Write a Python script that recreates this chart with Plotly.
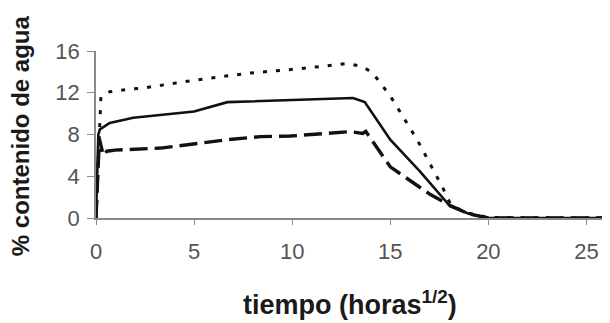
import plotly.graph_objects as go

# Serie punteada (superior)
x_dot = [0, 0.17, 0.25, 0.7, 1.5, 2.4, 5, 7.9, 10.4, 12.8, 13.6, 14.1, 15.0, 16.4, 17.7, 18.1, 18.9, 20, 22, 24, 26, 27]
y_dot = [0, 9.0, 11.6, 12.1, 12.3, 12.45, 13.2, 13.9, 14.3, 14.8, 14.5, 13.9, 11.7, 7.4, 2.8, 1.2, 0.5, 0.05, 0, 0, 0, 0]

# Serie continua (media)
x_sol = [0, 0.12, 0.2, 0.7, 1.9, 5, 6.7, 8.4, 13.1, 13.7, 15.0, 16.5, 18.06, 19, 20, 22, 24, 26, 27]
y_sol = [0, 8.0, 8.5, 9.1, 9.6, 10.2, 11.1, 11.2, 11.5, 11.1, 7.5, 4.5, 1.1, 0.4, 0, 0, 0, 0, 0]

# Serie discontinua (inferior)
x_das = [0, 0.12, 0.17, 0.37, 0.55, 0.97, 3.3, 6.7, 8.4, 9.9, 12.96, 13.6, 13.75, 15.0, 16.0, 17.0, 18.06, 19, 20, 22, 24, 26, 27]
y_das = [0, 6.0, 7.6, 6.0, 6.4, 6.5, 6.7, 7.5, 7.8, 7.85, 8.27, 8.1, 8.3, 4.9, 3.6, 2.3, 1.2, 0.4, 0, 0, 0, 0, 0]

x_ticks = [0, 5, 10, 15, 20, 25]
y_ticks = [0, 4, 8, 12, 16]

x_title = "tiempo (horas<sup>1/2</sup>)"
y_title = "% contenido de agua"

FONT = "Liberation Sans, Arial, sans-serif"

fig = go.Figure()
fig.add_trace(go.Scatter(x=x_dot, y=y_dot, mode="lines",
                         line=dict(color="#111111", width=3, dash="4px,9px"), showlegend=False))
fig.add_trace(go.Scatter(x=x_sol, y=y_sol, mode="lines",
                         line=dict(color="#111111", width=2.6), showlegend=False))
fig.add_trace(go.Scatter(x=x_das, y=y_das, mode="lines",
                         line=dict(color="#111111", width=3.4, dash="18px,7px"), showlegend=False))

# the page body has an 8px margin, so the figure is offset by (8, 8)
fig.update_layout(
    width=602, height=315,
    margin=dict(l=88, r=0, t=43, b=105, autoexpand=False),
    paper_bgcolor="white", plot_bgcolor="white",
    font=dict(family=FONT, color="#555555", size=22),
    xaxis=dict(
        range=[0, 26.2], tickvals=x_ticks, ticktext=[str(v) for v in x_ticks],
        automargin=False,
        showgrid=False, zeroline=False, showline=True, linecolor="#8a8a8a", linewidth=1.5,
        ticks="outside", ticklen=5, tickcolor="#8a8a8a", tickwidth=1.2,
        ticklabelstandoff=8,
    ),
    yaxis=dict(
        range=[0, 16], tickvals=y_ticks, ticktext=[str(v) for v in y_ticks],
        automargin=False,
        showgrid=False, zeroline=False, showline=True, linecolor="#8a8a8a", linewidth=1.5,
        ticks="outside", ticklen=7, tickcolor="#8a8a8a", tickwidth=1.2,
        ticklabelstandoff=3,
    ),
    annotations=[
        dict(text=x_title, xref="paper", yref="paper", x=0.494, y=0, yshift=-85,
             xanchor="center", yanchor="middle", showarrow=False,
             font=dict(family=FONT, size=27, color="#1a1a1a", weight="bold")),
        dict(text=y_title, xref="paper", yref="paper", x=0, y=0.49, xshift=-76,
             xanchor="center", yanchor="middle", textangle=-90, showarrow=False,
             font=dict(family=FONT, size=24, color="#1a1a1a", weight="bold")),
    ],
)

fig.write_html("out.html")
